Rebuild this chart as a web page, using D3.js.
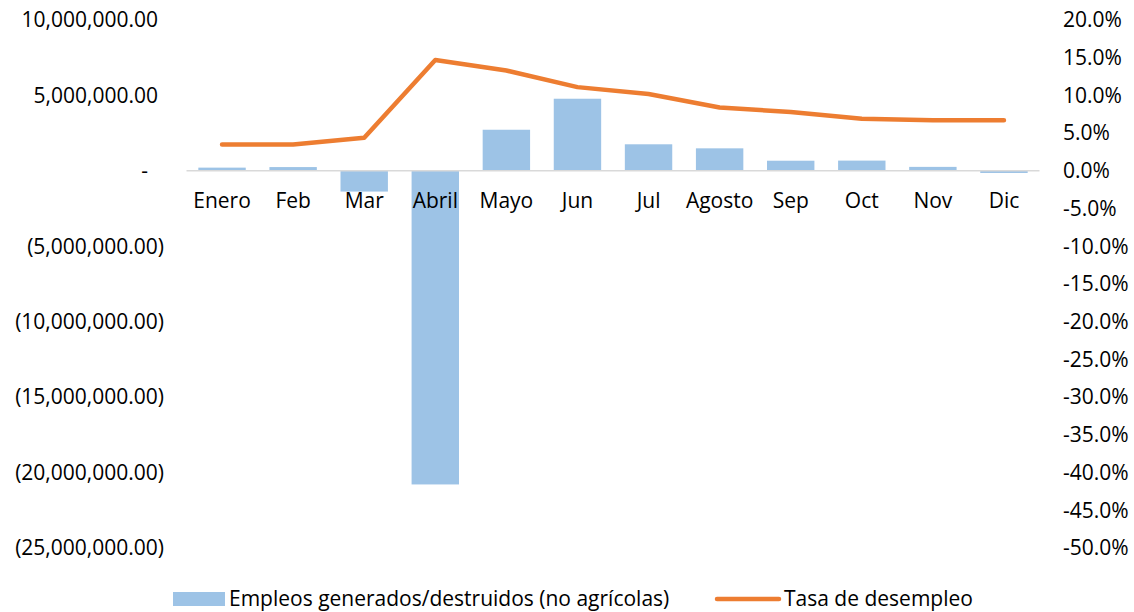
<!DOCTYPE html>
<html>
<head>
<meta charset="utf-8">
<script src="https://cdn.jsdelivr.net/npm/d3@7"></script>
<style>
  body { margin: 0; background: #fff; }
  svg text { font-family: "Open Sans", Lato, sans-serif; fill: #000; }
</style>
</head>
<body>
<svg id="chart" width="1134" height="612"></svg>
<script>
// datos
const meses = ["Enero","Feb","Mar","Abril","Mayo","Jun","Jul","Agosto","Sep","Oct","Nov","Dic"]
const empleos = [214000, 251000, -1373000, -20787000, 2725000, 4781000, 1761000, 1493000, 672000, 680000, 264000, -140000]
const tasaDesempleo = [3.5, 3.5, 4.4, 14.7, 13.3, 11.1, 10.2, 8.4, 7.8, 6.9, 6.7, 6.7]
const ticksIzq = [10000000, 5000000, 0, -5000000, -10000000, -15000000, -20000000, -25000000]
const ticksDer = [20, 15, 10, 5, 0, -5, -10, -15, -20, -25, -30, -35, -40, -45, -50]

const fontSize = 21
const plotLeft = 186.5, plotRight = 1039.5
const plotTop = 20, plotBottom = 548

const svg = d3.select("#chart")

const x = d3.scaleBand()
            .domain( meses )
            .range([ plotLeft, plotRight ])
            .paddingInner( 0.333 )
            .paddingOuter( 0.1665 )

const yIzq = d3.scaleLinear()
               .domain([ -25000000, 10000000 ])
               .range([ plotBottom, plotTop ])

const yDer = d3.scaleLinear()
               .domain([ -50, 20 ])
               .range([ plotBottom, plotTop ])

const fmtNum = d3.format(",.2f")
function etiquetaIzq( d ){
  if ( d == 0 ) return "-"
  if ( d < 0 ) return "(" + fmtNum( -d ) + ")"
  return fmtNum( d )
}

// eje izquierdo
svg.append("g")
   .selectAll("text")
   .data( ticksIzq )
   .join("text")
   .attr("x", d => d < 0 ? 164 : ( d == 0 ? 148 : 158 ) )
   .attr("y", d => yIzq( d ) )
   .attr("dy", "0.35em")
   .attr("text-anchor", "end")
   .attr("font-size", fontSize)
   .text( etiquetaIzq )

// eje derecho
svg.append("g")
   .selectAll("text")
   .data( ticksDer )
   .join("text")
   .attr("x", 1063)
   .attr("y", d => yDer( d ) )
   .attr("dy", "0.35em")
   .attr("text-anchor", "start")
   .attr("font-size", fontSize)
   .text( d => d.toFixed(1) + "%" )

// barras
svg.append("g")
   .selectAll("rect")
   .data( empleos )
   .join("rect")
   .attr("x", (d, i) => x( meses[i] ) )
   .attr("width", x.bandwidth() )
   .attr("y", d => yIzq( Math.max( 0, d ) ) )
   .attr("height", d => Math.abs( yIzq( d ) - yIzq( 0 ) ) )
   .attr("fill", "#9DC3E6")

// linea de cero
svg.append("line")
   .attr("x1", plotLeft)
   .attr("x2", plotRight)
   .attr("y1", yIzq( 0 ) )
   .attr("y2", yIzq( 0 ) )
   .attr("stroke", "#D9D9D9")
   .attr("stroke-width", 1.5)

// etiquetas de categoria
svg.append("g")
   .selectAll("text")
   .data( meses )
   .join("text")
   .attr("x", d => x( d ) + x.bandwidth() / 2 )
   .attr("y", 201)
   .attr("dy", "0.35em")
   .attr("text-anchor", "middle")
   .attr("font-size", fontSize)
   .text( d => d )

// linea tasa
const linea = d3.line()
                .x( (d, i) => x( meses[i] ) + x.bandwidth() / 2 )
                .y( d => yDer( d ) )

svg.append("path")
   .datum( tasaDesempleo )
   .attr("d", linea )
   .attr("fill", "none")
   .attr("stroke", "#ED7D31")
   .attr("stroke-width", 4.5)
   .attr("stroke-linejoin", "round")
   .attr("stroke-linecap", "round")

// leyenda
const leyenda = svg.append("g")
leyenda.append("rect")
       .attr("x", 173).attr("y", 592)
       .attr("width", 52).attr("height", 14)
       .attr("fill", "#9DC3E6")
leyenda.append("text")
       .attr("x", 229).attr("y", 599)
       .attr("dy", "0.35em")
       .attr("font-size", fontSize)
       .text("Empleos generados/destruidos (no agrícolas)")
leyenda.append("line")
       .attr("x1", 717).attr("x2", 779)
       .attr("y1", 599).attr("y2", 599)
       .attr("stroke", "#ED7D31")
       .attr("stroke-width", 4.5)
       .attr("stroke-linecap", "round")
leyenda.append("text")
       .attr("x", 784).attr("y", 599)
       .attr("dy", "0.35em")
       .attr("font-size", fontSize)
       .text("Tasa de desempleo")
</script>
</body>
</html>
